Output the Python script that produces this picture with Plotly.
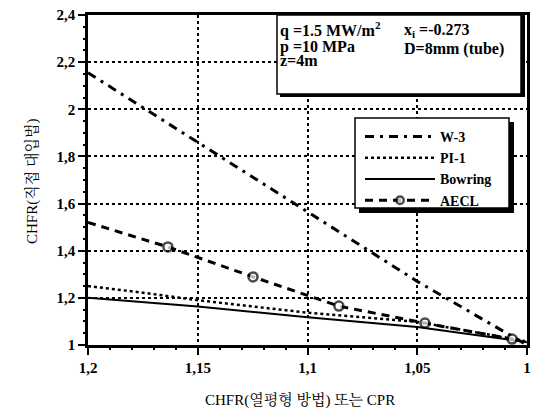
import plotly.graph_objects as go

# ---- data ----
x_w3 = [1.2, 1.15, 1.1, 1.05, 1.0]
y_w3 = [2.155, 1.86, 1.565, 1.27, 1.0]

x_pi1 = [1.2, 1.175, 1.15, 1.1, 1.05, 1.0]
y_pi1 = [1.25, 1.222, 1.19, 1.137, 1.098, 1.015]

x_bow = [1.2, 1.15, 1.1, 1.05, 1.0]
y_bow = [1.2, 1.163, 1.118, 1.076, 1.012]

x_aecl = [1.2, 1.1636, 1.1248, 1.0857, 1.0465, 1.0068]
y_aecl = [1.52, 1.416, 1.289, 1.165, 1.093, 1.025]
aecl_marker_sizes = [0, 9, 9, 9, 9, 9]

x_range = [1.2, 1.0]
y_range = [1.0, 2.4]
x_major_step = 0.05
y_major_step = 0.2
x_minor_step = 0.01
y_minor_step = 0.05

series_names = ["W-3", "PI-1", "Bowring", "AECL"]
x_title = "CHFR(열평형 방법) 또는 CPR"
y_title = "CHFR(직접 대입법)"

# ---- layout geometry ----
W, H = 542, 413
ML, MR, MT, MB = 88, 15, 15, 68
PW, PH = W - ML - MR, H - MT - MB


def px(x):
    return (x - ML) / PW


def py(y):
    return (H - MB - y) / PH


SERIF = "Liberation Serif, Times New Roman, Noto Serif CJK KR, Noto Sans CJK KR, serif"

fig = go.Figure()
fig.add_trace(go.Scatter(x=x_w3, y=y_w3, mode="lines", name=series_names[0],
                         line=dict(color="black", width=3, dash="9px,6px,3px,6px")))
fig.add_trace(go.Scatter(x=x_pi1, y=y_pi1, mode="lines", name=series_names[1],
                         line=dict(color="black", width=2.5, dash="3px,3px")))
fig.add_trace(go.Scatter(x=x_bow, y=y_bow, mode="lines", name=series_names[2],
                         line=dict(color="black", width=2)))
fig.add_trace(go.Scatter(x=x_aecl, y=y_aecl, mode="lines+markers", name=series_names[3],
                         line=dict(color="black", width=3, dash="8px,6px"),
                         marker=dict(symbol="circle", size=aecl_marker_sizes, color="white",
                                     line=dict(color="black", width=2.5))))
# invisible helper trace so that the minor-tick overlay axes are drawn
fig.add_trace(go.Scatter(x=x_bow, y=y_bow, mode="lines", xaxis="x2", yaxis="y2",
                         line=dict(color="rgba(0,0,0,0)", width=0), showlegend=False,
                         hoverinfo="skip"))

LEG_TOP, LEG_BOT = 118, 208
shapes = []
# legend box with shadow
shapes.append(dict(type="rect", xref="paper", yref="paper", layer="above",
                   x0=px(359), x1=px(514), y0=py(LEG_BOT + 5), y1=py(LEG_TOP + 4),
                   fillcolor="black", line=dict(width=0)))
shapes.append(dict(type="rect", xref="paper", yref="paper", layer="above",
                   x0=px(355), x1=px(509), y0=py(LEG_BOT), y1=py(LEG_TOP),
                   fillcolor="white", line=dict(color="black", width=1.5)))
# info box with shadow
shapes.append(dict(type="rect", xref="paper", yref="paper", layer="above",
                   x0=px(280), x1=px(525), y0=py(97), y1=py(15),
                   fillcolor="black", line=dict(width=0)))
shapes.append(dict(type="rect", xref="paper", yref="paper", layer="above",
                   x0=px(277), x1=px(521), y0=py(94), y1=py(15),
                   fillcolor="white", line=dict(color="black", width=1.5)))

afont = dict(family=SERIF, size=16, color="black")
annotations = [
    dict(text="<b>q =1.5 MW/m<sup>2</sup></b>", x=px(279), y=py(29)),
    dict(text="<b>p =10 MPa</b>", x=px(279), y=py(47)),
    dict(text="<b>z=4m</b>", x=px(279), y=py(60)),
    dict(text="<b>x<sub>i</sub> =-0.273</b>", x=px(403), y=py(31)),
    dict(text="<b>D=8mm (tube)</b>", x=px(403), y=py(49)),
]
for a in annotations:
    a.update(xref="paper", yref="paper", xanchor="left", yanchor="middle",
             showarrow=False, font=afont, borderpad=0)

tfont = dict(family=SERIF, size=15, color="black")
annotations.append(dict(text=x_title, xref="paper", yref="paper", x=px(300), y=py(400),
                        xanchor="center", yanchor="middle", showarrow=False, font=tfont))
annotations.append(dict(text=y_title, xref="paper", yref="paper", x=px(32), y=py(181),
                        xanchor="center", yanchor="middle", showarrow=False, font=tfont,
                        textangle=-90))

fig.update_layout(
    width=W, height=H,
    margin=dict(l=ML, r=MR, t=MT, b=MB),
    paper_bgcolor="white", plot_bgcolor="white",
    separators=",.",
    shapes=shapes, annotations=annotations,
    legend=dict(x=px(360), y=py(121), xanchor="left", yanchor="top",
                bgcolor="rgba(0,0,0,0)", borderwidth=0,
                font=dict(family=SERIF, size=14, color="black", weight="bold"),
                itemwidth=70, tracegroupgap=0),
    showlegend=True,
)

axis_common = dict(
    autorange=False,
    tickmode="linear",
    tickprefix="<b>", ticksuffix="</b>",
    tickfont=dict(family=SERIF, size=15, color="black"),
    ticks="outside", ticklen=7, tickwidth=2, tickcolor="black",
    showgrid=True, gridcolor="black", griddash="dot", gridwidth=1.5,
    showline=True, linecolor="black", linewidth=2.5, mirror=True,
    zeroline=False,
    automargin=False,
)

fig.update_xaxes(range=x_range, tick0=1.0, dtick=x_major_step, **axis_common)
fig.update_yaxes(range=y_range, tick0=1.0, dtick=y_major_step, **axis_common)

# minor tick marks via overlaying tick-only axes
fig.update_layout(
    xaxis2=dict(overlaying="x", anchor="y", side="bottom", range=x_range, autorange=False,
                tickmode="linear", tick0=1.0, dtick=x_minor_step,
                ticks="outside", ticklen=4, tickwidth=2, tickcolor="black",
                showticklabels=False, showgrid=False, showline=False, zeroline=False,
                automargin=False),
    yaxis2=dict(overlaying="y", anchor="x", side="left", range=y_range, autorange=False,
                tickmode="linear", tick0=1.0, dtick=y_minor_step,
                ticks="outside", ticklen=4, tickwidth=2, tickcolor="black",
                showticklabels=False, showgrid=False, showline=False, zeroline=False,
                automargin=False),
)

fig.write_html("out.html", config={"displayModeBar": False},
               post_script="document.body.style.margin='0';")
